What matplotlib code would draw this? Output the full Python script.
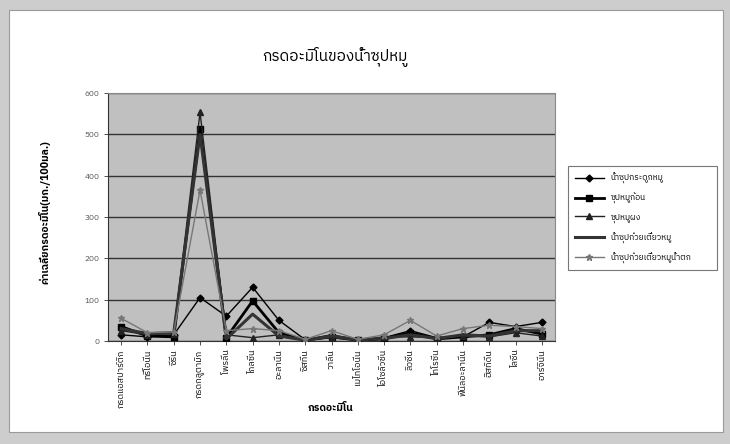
import matplotlib
matplotlib.use("Agg")
import matplotlib.pyplot as plt
from matplotlib import font_manager
from matplotlib.patches import Rectangle
from matplotlib.ft2font import FT2Font

# ---- data ----
categories = ["กรดแอสปาร์ติก", "ทรีโอนีน", "ซีรีน", "กรดกลูตามิก", "โพรลีน", "ไกลซีน",
              "อะลานีน", "ซิสทีน", "วาลีน", "เมไทโอนีน", "ไอโซลิวซีน", "ลิวซีน",
              "ไทโรซีน", "ฟีนิลอะลานีน", "ฮิสทิดีน", "ไลซีน", "อาร์จินีน"]
series_names = ["น้ำซุปกระดูกหมู", "ซุปหมูก้อน", "ซุปหมูผง",
                "น้ำซุปก๋วยเตี๋ยวหมู", "น้ำซุปก๋วยเตี๋ยวหมูน้ำตก"]
bone_broth = [15, 10, 15, 105, 60, 130, 50, 3, 15, 3, 8, 25, 8, 10, 45, 35, 45]
cube_soup = [35, 12, 10, 513, 8, 97, 20, 2, 10, 2, 5, 20, 5, 10, 15, 30, 17]
powder_soup = [25, 15, 18, 553, 15, 8, 15, 3, 8, 2, 10, 10, 8, 12, 10, 20, 12]
noodle_soup = [30, 18, 20, 500, 5, 65, 12, 2, 12, 3, 6, 15, 6, 15, 12, 25, 25]
namtok_soup = [55, 20, 22, 365, 25, 30, 25, 4, 25, 4, 15, 50, 12, 30, 38, 35, 30]
y_ticks = [0, 100, 200, 300, 400, 500, 600]

title = "กรดอะมิโนของน้ำซุปหมู"
x_label = "กรดอะมิโน"
y_label = "ค่าเฉลี่ยกรดอะมิโน(มก./100มล.)"

# ---- font with Thai glyphs ----
thai_font = None
for path in font_manager.findSystemFonts():
    try:
        f = FT2Font(path)
        if 0x0E01 in f.get_charmap() and 0x0E2D in f.get_charmap():
            name = font_manager.FontProperties(fname=path).get_name()
            thai_font = name
            if "Thai" in name or "Loma" in name or "Garuda" in name:
                break
    except Exception:
        pass
families = ([thai_font] if thai_font else []) + ["DejaVu Sans"]
plt.rcParams["font.family"] = families

# ---- figure ----
W, H = 730, 444
fig = plt.figure(figsize=(W / 100, H / 100), dpi=100, facecolor="#cdcdcd")
bg = Rectangle((9 / W, 12 / H), 714 / W, 422 / H, transform=fig.transFigure,
               facecolor="white", edgecolor="#9a9a9a", linewidth=0.8, zorder=-10)
fig.add_artist(bg)

ax = fig.add_axes([108 / W, 1 - 341 / H, 447 / W, 248 / H], zorder=2)
ax.set_facecolor("#c0c0c0")

x = list(range(len(categories)))
all_series = [bone_broth, cube_soup, powder_soup, noodle_soup, namtok_soup]
styles = [
    dict(color="black", lw=1.0, marker="D", ms=3.5),
    dict(color="black", lw=2.0, marker="s", ms=5),
    dict(color="#222222", lw=1.0, marker="^", ms=4.5),
    dict(color="#333333", lw=2.2, marker=None, ms=0),
    dict(color="#777777", lw=1.0, marker="*", ms=5),
]
for vals, name, st in zip(all_series, series_names, styles):
    ax.plot(x, vals, label=name, color=st["color"], lw=st["lw"],
            marker=st["marker"], ms=st["ms"], mfc=st["color"], mec=st["color"], zorder=3)

ax.set_xlim(-0.5, len(categories) - 0.5)
ax.set_ylim(0, 600)
ax.set_yticks(y_ticks)
ax.set_yticklabels([str(v) for v in y_ticks], fontsize=6, color="#555555")
ax.yaxis.grid(True, color="#333333", lw=1.0)
ax.set_axisbelow(True)
ax.set_xticks(x)
ax.set_xticklabels(categories, rotation=90, fontsize=6.5, va="top", ha="center")
ax.tick_params(axis="both", length=3, width=0.6, color="#333333", pad=3)
for s in ["top", "right"]:
    ax.spines[s].set_color("#888888")
    ax.spines[s].set_linewidth(0.8)
for s in ["left", "bottom"]:
    ax.spines[s].set_color("#333333")
    ax.spines[s].set_linewidth(0.8)

fig.text(335 / W, 1 - 57 / H, title, ha="center", va="center", fontsize=11)
fig.text(331 / W, 1 - 408 / H, x_label, ha="center", va="center", fontsize=7.5, fontweight="bold")
fig.text(44 / W, 1 - 212 / H, y_label, ha="center", va="center", rotation=90, fontsize=7.5, fontweight="bold")

leg = ax.legend(loc="upper left", bbox_to_anchor=(564 / W, 1 - 258 / H, 157 / W, 96 / H),
                bbox_transform=fig.transFigure, mode="expand", frameon=True, fontsize=6,
                handlelength=3.5, labelspacing=1.1, borderpad=0.8, fancybox=False)
leg.get_frame().set_edgecolor("#555555")
leg.get_frame().set_linewidth(0.8)

fig.savefig("out.png", dpi=100, facecolor=fig.get_facecolor())
